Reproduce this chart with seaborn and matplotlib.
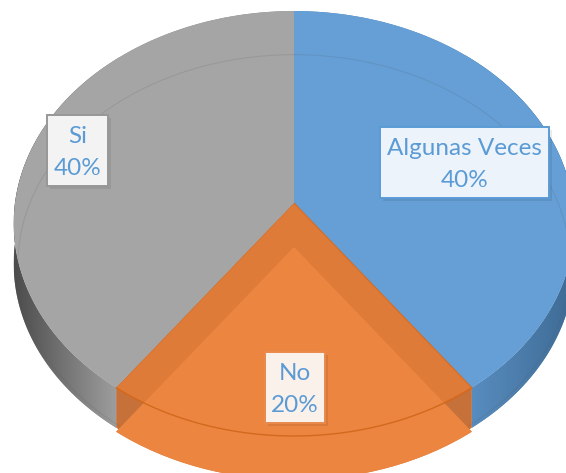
import numpy as np
import seaborn as sns
import matplotlib.pyplot as plt
from matplotlib.colors import LinearSegmentedColormap
from matplotlib.patches import Rectangle
from matplotlib.transforms import Transform

# Slices, clockwise from the top
categories = ['Algunas Veces', 'No', 'Si']
values = [40, 20, 40]

top_colors = ['#659FD6', '#DE7B38', '#A5A5A5']
side_colors = ['#5586B5', '#C6703A', '#8C8C8C']

# label boxes: left, top, right, bottom (pixels) and colours
boxes = {
    'Algunas Veces': ((380, 127, 549, 198), '#EDF3FA', '#5B9BD5'),
    'No': ((265, 352, 325, 423), '#FAF1EB', '#E98A4C'),
    'Si': ((47, 115, 108, 186), '#F3F3F3', '#979797'),
}

# perspective of the tilted disc, in pixels
CX, CY = 294, 203
A, B, K = 279, 210.5, 0.0965
DEPTH = 40
BEVEL = 44


class Tilt(Transform):
    input_dims = 2
    output_dims = 2

    def __init__(self, dy=0):
        super().__init__()
        self.dy = dy

    def transform_non_affine(self, xy):
        xy = np.asarray(xy, dtype=float)
        w = 1 + K * xy[:, 1]
        return np.column_stack((CX + A * xy[:, 0] / w, CY + self.dy - B * xy[:, 1] / w))


def draw_pie(ax, dy, colors, **wedgeprops):
    wedges, _ = ax.pie(values, startangle=90, counterclock=False, colors=colors,
                       wedgeprops=wedgeprops)
    for w in wedges:
        w.set_transform(Tilt(dy) + ax.transData)
    return wedges


def arc(t0, t1, dy=0, r=1.0):
    th = np.radians(np.linspace(t0, t1, 120))
    return Tilt(dy).transform_non_affine(np.column_stack((np.cos(th), np.sin(th))) * r)


def gradient(ax, clip, x0, x1, c0, c1):
    cmap = LinearSegmentedColormap.from_list('side', [c0, c1])
    im = ax.imshow(np.linspace(0, 1, 256)[None, :], cmap=cmap, aspect='auto',
                   extent=(x0, x1, 473, 0), zorder=1.5)
    im.set_clip_path(clip)


sns.set_theme(style='white')
plt.rcParams['font.family'] = ['Lato', 'DejaVu Sans']

fig = plt.figure(figsize=(5.66, 4.73), dpi=100)
ax = fig.add_axes([0, 0, 1, 1])

# angle span of every slice
ends = 90 - np.cumsum(values) * 3.6
starts = np.r_[90, ends[:-1]]

# side wall
walls = []
for t0, t1, col in zip(starts, ends, side_colors):
    pts = np.vstack((arc(t0, t1), arc(t1, t0, DEPTH)))
    walls.append(ax.fill(pts[:, 0], pts[:, 1], color=col, linewidth=0, zorder=1)[0])
gradient(ax, walls[2], 14, 120, '#4C4C4C', '#A0A0A0')
gradient(ax, walls[0], 465, 570, '#5A8FC2', '#3F6C96')

# top surface
top = draw_pie(ax, 0, top_colors, linewidth=0)
for w in top:
    w.set_zorder(2)
top[1].set_edgecolor('#D5691F')
top[1].set_linewidth(0.8)

# lighter inner part of the orange slice, running over the wall as well
inner_side = draw_pie(ax, BEVEL, ['#659FD6', '#DC7F41', '#A5A5A5'], linewidth=0)
inner_top = draw_pie(ax, BEVEL, ['#659FD6', '#EC853F', '#A5A5A5'], linewidth=0)
for i, w in enumerate(inner_side):
    w.set_zorder(1.8)
    w.set_visible(i == 1)
    w.set_clip_path(walls[1])
for i, w in enumerate(inner_top):
    w.set_zorder(2.2)
    w.set_visible(i == 1)
    w.set_clip_path(top[1])

# rim of the orange slice and the faint rim line on blue and grey
rim = arc(starts[1], ends[1])
ax.plot(rim[:, 0], rim[:, 1], color='#D2691E', lw=1.0, zorder=2.6)
for t0, t1, cat in zip(starts, ends, categories):
    if cat != 'No':
        pts = arc(t0, t1, BEVEL - 3, 0.985)
        ax.plot(pts[:, 0], pts[:, 1], color='#555555', alpha=0.15, lw=0.8, zorder=2.5)

# labels
for cat, val in zip(categories, values):
    (x0, y0, x1, y1), face, edge = boxes[cat]
    ax.add_patch(Rectangle((x0 + 3, y0 + 3), x1 - x0, y1 - y0, facecolor='#000000',
                           alpha=0.08, linewidth=0, zorder=3))
    ax.add_patch(Rectangle((x0, y0), x1 - x0, y1 - y0, facecolor=face, edgecolor=edge,
                           linewidth=1.4, zorder=4))
    ax.text((x0 + x1) / 2, (y0 + y1) / 2 + 2, f'{cat}\n{val}%', color='#5B9BD5', fontsize=17.5,
            ha='center', va='center', linespacing=1.68, zorder=5)

ax.set_aspect('auto')
ax.set_xlim(0, 566)
ax.set_ylim(473, 0)
ax.axis('off')

fig.savefig('out.png', dpi=100)
